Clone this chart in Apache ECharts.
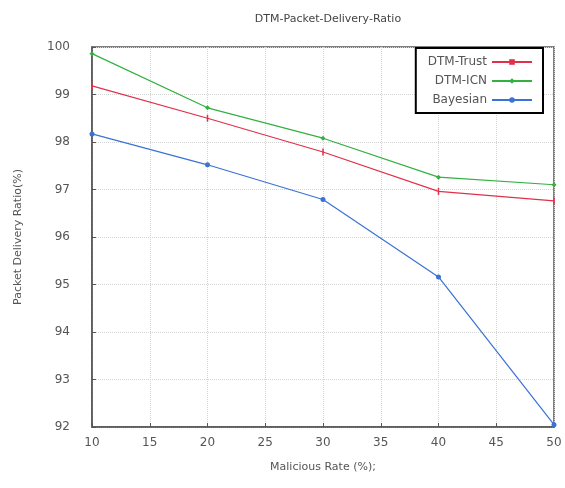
<!DOCTYPE html>
<html>
<head>
<meta charset="utf-8">
<script src="https://cdn.jsdelivr.net/npm/echarts@6/dist/echarts.min.js"></script>
<style>html,body{margin:0;padding:0;background:#fff}#c{width:565px;height:488px}</style>
</head>
<body>
<div id="c"></div>
<script>
var xValues = [10, 20, 30, 40, 50];
var trust = [99.18, 98.5, 97.79, 96.96, 96.76];
var icn = [99.86, 98.72, 98.08, 97.26, 97.1];
var bayesian = [98.17, 97.52, 96.79, 95.16, 92.05];
var seriesNames = ['DTM-Trust', 'DTM-ICN', 'Bayesian'];

function pairs(vals) { return xValues.map(function (x, i) { return [x, vals[i]]; }); }

var font = 'DejaVu Sans';
var chart = echarts.init(document.getElementById('c'));
chart.setOption({
  backgroundColor: '#fff',
  animation: false,
  title: {
    text: 'DTM-Packet-Delivery-Ratio',
    left: 323, top: 9, textAlign: 'center',
    textStyle: { fontFamily: font, fontSize: 11, fontWeight: 'normal', color: '#444' }
  },
  grid: { left: 92, right: 11, top: 47, bottom: 61, show: true, borderColor: '#555', borderWidth: 1.5, backgroundColor: '#fff' },
  legend: {
    orient: 'vertical', right: 22, top: 48,
    align: 'right',
    padding: [8, 10, 7, 12],
    itemGap: 7, itemWidth: 40, itemHeight: 7,
    borderColor: '#000', borderWidth: 2, backgroundColor: '#fff',
    data: seriesNames,
    formatter: function (n) { return '{a|' + n + '}'; },
    textStyle: { fontFamily: font, fontSize: 12, color: '#555',
      rich: { a: { width: 82, align: 'right', fontFamily: font, fontSize: 12, color: '#555' } } }
  },
  xAxis: {
    type: 'value', min: 10, max: 50, interval: 5,
    name: 'Malicious Rate (%);', nameLocation: 'middle', nameGap: 35,
    nameTextStyle: { fontFamily: font, fontSize: 11, color: '#555' },
    axisLine: { lineStyle: { color: '#555', width: 1.5 } },
    axisTick: { inside: true, length: 4, lineStyle: { color: '#555' } },
    axisLabel: { fontFamily: font, fontSize: 12, color: '#555', margin: 10 },
    splitLine: { show: true, lineStyle: { color: '#d4d4d4', type: 'dotted' } }
  },
  yAxis: {
    type: 'value', min: 92, max: 100, interval: 1,
    name: 'Packet Delivery Ratio(%)', nameLocation: 'middle', nameGap: 68,
    nameTextStyle: { fontFamily: font, fontSize: 11, color: '#555' },
    axisLine: { show: true, lineStyle: { color: '#555', width: 1.5 } },
    axisTick: { show: true, inside: true, length: 4, lineStyle: { color: '#555' } },
    axisLabel: { fontFamily: font, fontSize: 12, color: '#555', margin: 22 },
    splitLine: { show: true, lineStyle: { color: '#d4d4d4', type: 'dotted' } }
  },
  series: [
    { name: seriesNames[0], type: 'line', data: pairs(trust), color: '#e0304a',
      symbol: 'rect', symbolSize: [1.5, 7], lineStyle: { width: 1.2 } },
    { name: seriesNames[1], type: 'line', data: pairs(icn), color: '#33b040',
      symbol: 'diamond', symbolSize: 5, lineStyle: { width: 1.2 } },
    { name: seriesNames[2], type: 'line', data: pairs(bayesian), color: '#3a72d6',
      symbol: 'circle', symbolSize: 5, lineStyle: { width: 1.2 } }
  ]
});
</script>
</body>
</html>
